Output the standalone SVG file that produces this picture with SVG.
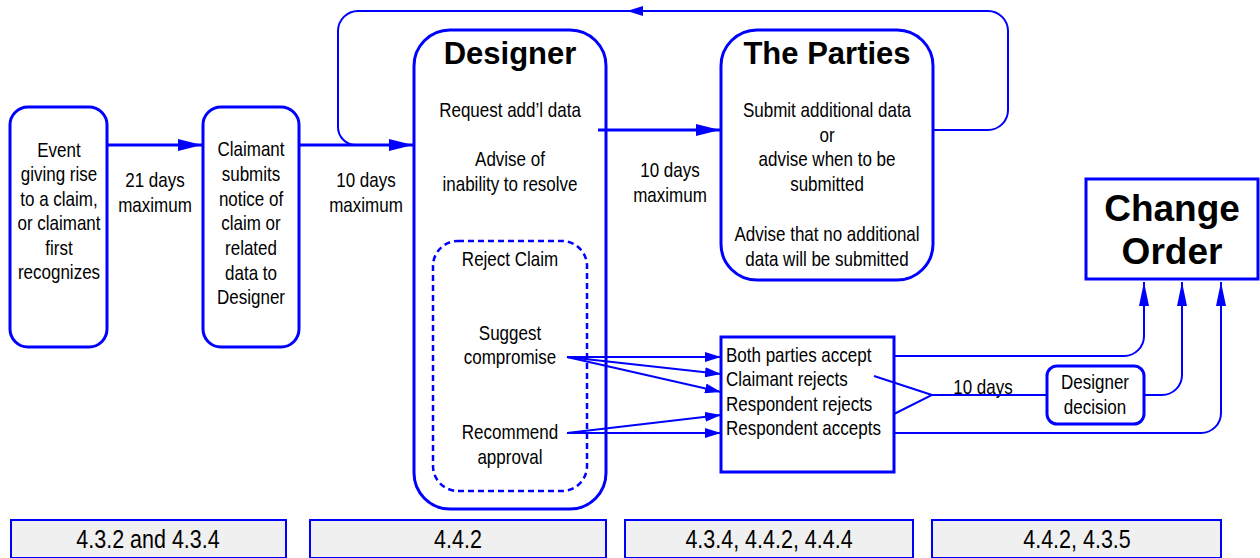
<svg xmlns="http://www.w3.org/2000/svg" width="1260" height="558" viewBox="0 0 1260 558">
<defs>
<style>
.box{fill:#fff;stroke:#0000ff;stroke-width:3}
.dash{fill:none;stroke:#0000ff;stroke-width:2.5;stroke-dasharray:6 4}
.t{font-family:"Liberation Sans",Arial,sans-serif;font-size:20px;fill:#000;text-anchor:middle}
.tl{text-anchor:start}
.h{font-family:"Liberation Sans",Arial,sans-serif;font-weight:bold;font-size:31px;fill:#000;text-anchor:middle}
.co{font-size:37px}
.thick{fill:none;stroke:#0000ff;stroke-width:3}
.thin{fill:none;stroke:#0000ff;stroke-width:2}
.ref{fill:#f0f0f0;stroke:#0000ff;stroke-width:2}
.rt{font-family:"Liberation Sans",Arial,sans-serif;font-size:25px;fill:#000;text-anchor:middle}
</style>
<marker id="big" markerUnits="userSpaceOnUse" markerWidth="24" markerHeight="12" refX="24" refY="6" orient="auto">
<path d="M0,0 L24,6 L0,12 z" fill="#0000ff"/>
</marker>
<marker id="sm" markerUnits="userSpaceOnUse" markerWidth="16" markerHeight="10" refX="16" refY="5" orient="auto">
<path d="M0,0 L16,5 L0,10 z" fill="#0000ff"/>
</marker>
<marker id="up" markerUnits="userSpaceOnUse" markerWidth="24" markerHeight="10" refX="24" refY="5" orient="auto">
<path d="M0,0 L24,5 L0,10 z" fill="#0000ff"/>
</marker>
</defs>

<g id="event">
<rect class="box" x="10" y="107" width="97" height="240" rx="18"/>
<text class="t" transform="translate(59,157) scale(.85 1)">Event</text>
<text class="t" transform="translate(59,181) scale(.85 1)">giving rise</text>
<text class="t" transform="translate(59,206) scale(.85 1)">to a claim,</text>
<text class="t" transform="translate(59,230) scale(.85 1)">or claimant</text>
<text class="t" transform="translate(59,255) scale(.85 1)">first</text>
<text class="t" transform="translate(59,279) scale(.85 1)">recognizes</text>
</g>

<g id="lbl21">
<text class="t" transform="translate(155,187) scale(.85 1)">21 days</text>
<text class="t" transform="translate(155,212) scale(.85 1)">maximum</text>
</g>

<g id="claimant">
<rect class="box" x="203" y="107" width="96" height="240" rx="18"/>
<text class="t" transform="translate(251,156) scale(.85 1)">Claimant</text>
<text class="t" transform="translate(251,181) scale(.85 1)">submits</text>
<text class="t" transform="translate(251,206) scale(.85 1)">notice of</text>
<text class="t" transform="translate(251,230) scale(.85 1)">claim or</text>
<text class="t" transform="translate(251,255) scale(.85 1)">related</text>
<text class="t" transform="translate(251,280) scale(.85 1)">data to</text>
<text class="t" transform="translate(251,304) scale(.85 1)">Designer</text>
</g>

<g id="lbl10a">
<text class="t" transform="translate(366,187) scale(.85 1)">10 days</text>
<text class="t" transform="translate(366,212) scale(.85 1)">maximum</text>
</g>

<g id="designer">
<rect class="box" x="414" y="30" width="192" height="479" rx="36"/>
<text class="h" x="510" y="64">Designer</text>
<text class="t" transform="translate(510,117) scale(.85 1)">Request add’l data</text>
<text class="t" transform="translate(510,166) scale(.85 1)">Advise of</text>
<text class="t" transform="translate(510,191) scale(.85 1)">inability to resolve</text>
<rect class="dash" x="433" y="241" width="154" height="250" rx="25"/>
<text class="t" transform="translate(510,266) scale(.85 1)">Reject Claim</text>
<text class="t" transform="translate(510,340) scale(.85 1)">Suggest</text>
<text class="t" transform="translate(510,364) scale(.85 1)">compromise</text>
<text class="t" transform="translate(510,439) scale(.85 1)">Recommend</text>
<text class="t" transform="translate(510,464) scale(.85 1)">approval</text>
</g>

<g id="lbl10b">
<text class="t" transform="translate(670,177) scale(.85 1)">10 days</text>
<text class="t" transform="translate(670,202) scale(.85 1)">maximum</text>
</g>

<g id="parties">
<rect class="box" x="721" y="30" width="212" height="250" rx="36"/>
<text class="h" x="827" y="64">The Parties</text>
<text class="t" transform="translate(827,117) scale(.85 1)">Submit additional data</text>
<text class="t" transform="translate(827,142) scale(.85 1)">or</text>
<text class="t" transform="translate(827,166) scale(.85 1)">advise when to be</text>
<text class="t" transform="translate(827,191) scale(.85 1)">submitted</text>
<text class="t" transform="translate(827,241) scale(.85 1)">Advise that no additional</text>
<text class="t" transform="translate(827,266) scale(.85 1)">data will be submitted</text>
</g>

<g id="responses">
<rect class="box" x="721" y="337" width="173" height="135"/>
<text class="t tl" transform="translate(726,362) scale(.85 1)">Both parties accept</text>
<text class="t tl" transform="translate(726,386) scale(.85 1)">Claimant rejects</text>
<text class="t tl" transform="translate(726,411) scale(.85 1)">Respondent rejects</text>
<text class="t tl" transform="translate(726,435) scale(.85 1)">Respondent accepts</text>
</g>

<g id="lbl10c">
<text class="t" transform="translate(983,394) scale(.85 1)">10 days</text>
</g>

<g id="designer-decision">
<rect class="box" x="1047" y="366" width="97" height="58" rx="10"/>
<text class="t" transform="translate(1095,389) scale(.85 1)">Designer</text>
<text class="t" transform="translate(1095,414) scale(.85 1)">decision</text>
</g>

<g id="change-order">
<rect class="box" x="1086" y="179" width="172" height="100"/>
<text class="h co" x="1172" y="221">Change</text>
<text class="h co" x="1172" y="264">Order</text>
</g>

<g id="ref1">
<rect class="ref" x="11" y="520" width="275" height="38"/>
<text class="rt" transform="translate(148,548) scale(.86 1)">4.3.2 and 4.3.4</text>
</g>
<g id="ref2">
<rect class="ref" x="310" y="520" width="296" height="38"/>
<text class="rt" transform="translate(458,548) scale(.86 1)">4.4.2</text>
</g>
<g id="ref3">
<rect class="ref" x="625" y="520" width="288" height="38"/>
<text class="rt" transform="translate(769,548) scale(.86 1)">4.3.4, 4.4.2, 4.4.4</text>
</g>
<g id="ref4">
<rect class="ref" x="932" y="520" width="289" height="38"/>
<text class="rt" transform="translate(1077,548) scale(.86 1)">4.4.2, 4.3.5</text>
</g>

<g id="connectors">
<path class="thick" d="M107,145 H202" marker-end="url(#big)"/>
<path class="thick" d="M299,145 H413" marker-end="url(#big)"/>
<path class="thin" d="M933,130 H988 A20,20 0 0 0 1008,110 V31 A20,20 0 0 0 988,11 H358 A20,20 0 0 0 338,31 V127 A18,18 0 0 0 356,145"/>
<polygon points="627,11 643,6 643,16" fill="#0000ff"/>
<path class="thick" d="M598,130 H720" marker-end="url(#big)"/>
<path class="thin" d="M567,357 L721,357" marker-end="url(#sm)"/>
<path class="thin" d="M567,357 L721,374" marker-end="url(#sm)"/>
<path class="thin" d="M567,357 L721,392" marker-end="url(#sm)"/>
<path class="thin" d="M567,433 L721,415" marker-end="url(#sm)"/>
<path class="thin" d="M567,433 L721,433" marker-end="url(#sm)"/>
<path class="thin" d="M894,356 H1124 A20,20 0 0 0 1144,336 V282" marker-end="url(#up)"/>
<path class="thin" d="M874,376 L932,395 L894,414"/>
<path class="thin" d="M932,395 H1047"/>
<path class="thin" d="M1144,395 H1162 A20,20 0 0 0 1182,375 V282" marker-end="url(#up)"/>
<path class="thin" d="M894,433 H1201 A20,20 0 0 0 1221,413 V282" marker-end="url(#up)"/>
</g>
</svg>
